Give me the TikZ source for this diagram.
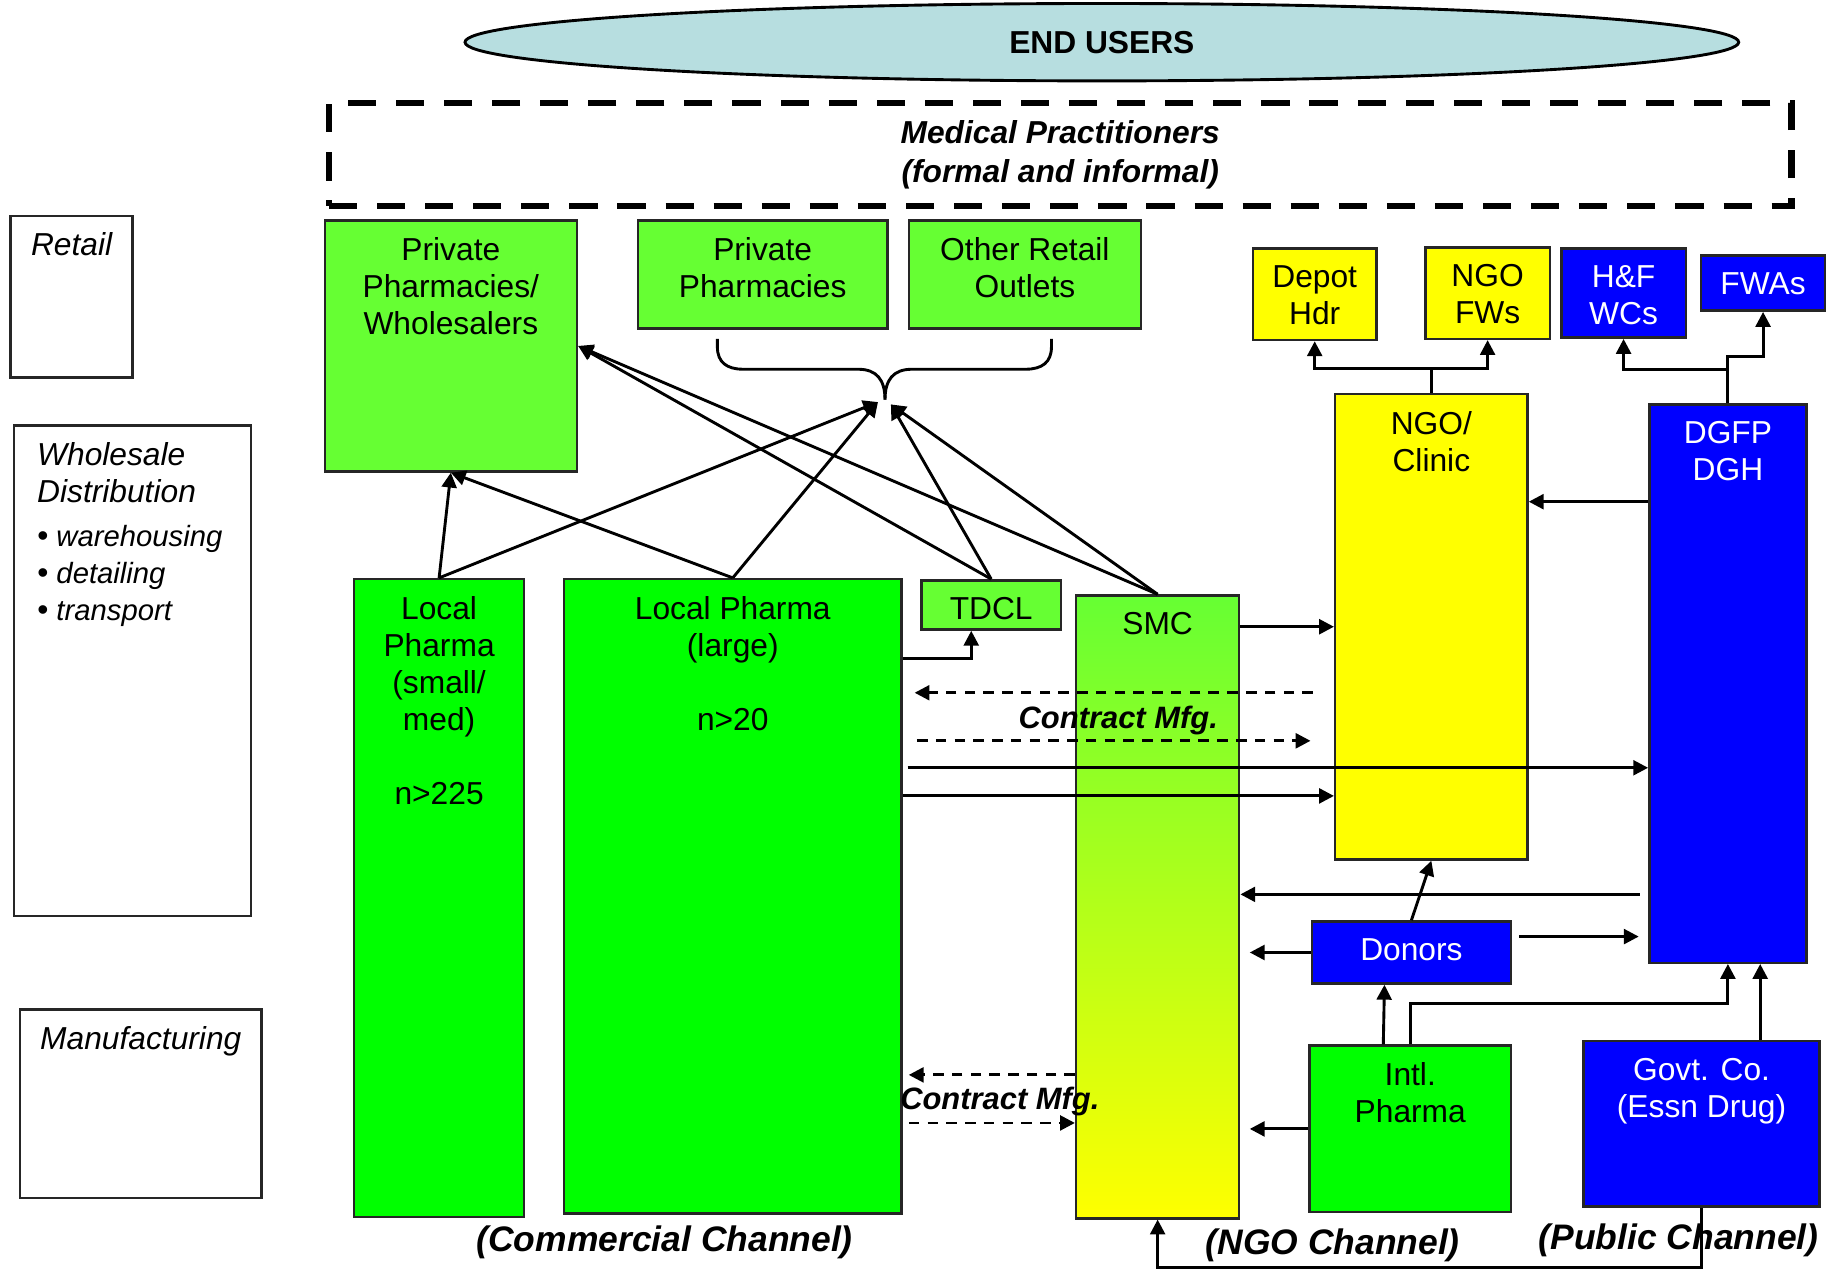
\documentclass[tikz,border=0pt]{standalone}
\usepackage{fontspec}
\setmainfont{Liberation Sans}
\usepackage{tikz}
\usetikzlibrary{positioning, calc, shapes.geometric, arrows.meta}
\definecolor{BrightLime}{HTML}{66FF33}
\definecolor{PureGreen}{HTML}{00FF00}
\definecolor{NgoYellow}{HTML}{FFFF00}
\definecolor{PublicBlue}{HTML}{0000FF}
\definecolor{SkyEllipse}{HTML}{B7DEE0}

\begin{document}
\begin{tikzpicture}[
    x=0.01cm, y=-0.01cm,
    font=\fontsize{7.7}{9}\selectfont,
    >={Triangle[length=3.6pt, width=3.6pt]},
    chbox/.style={rectangle, draw=black!85, line width=0.6pt, anchor=north west, inner sep=0pt},
    lime/.style={chbox, fill=BrightLime},
    pharma/.style={chbox, fill=PureGreen},
    ngobox/.style={chbox, fill=NgoYellow},
    pubbox/.style={chbox, fill=PublicBlue},
    side/.style={chbox, fill=white},
    dims/.style 2 args={minimum width=#1cm, minimum height=#2cm},
    toptext/.style={anchor=north, align=center, inner sep=0pt, yshift=-0.15cm},
    boxtext/.style={label={[toptext]north:{#1}}},
    whitetext/.style={label={[toptext, text=white]north:{#1}}},
    sidetext/.style={label={[toptext, font=\fontsize{7.7}{9}\selectfont\itshape]north:{#1}}},
    flow/.style={->, line width=0.7pt},
    cmflow/.style={->, line width=0.7pt, dash pattern=on 0.09cm off 0.07cm},
    cmtag/.style={font=\fontsize{7.5}{9}\selectfont\bfseries\itshape},
    tag/.style={font=\fontsize{8.6}{10}\selectfont\bfseries\itshape}
  ]
    \useasboundingbox (0,0) rectangle (1568,1085);

    % End users and practitioners
    \node (endusers) [ellipse, draw, line width=0.7pt, fill=SkyEllipse, minimum width=10.86cm, minimum height=0.66cm, inner sep=1pt, font=\fontsize{7.7}{9}\selectfont\bfseries] at (940,36) {END USERS};
    \node (medprac) [draw, line width=1.5pt, dash pattern=on 0.24cm off 0.17cm, minimum width=12.47cm, minimum height=0.88cm, align=center, font=\fontsize{7.7}{9.4}\selectfont\bfseries\itshape] at (904.5,132) {Medical Practitioners\\(formal and informal)};

    % Levels on the left
    \node (retail) [side, dims={1.04}{1.38}, sidetext={Retail}] at (8,183) {};
    \node (whole) [side, dims={2.02}{4.18}, label={[anchor=north west, align=left, inner sep=0pt, xshift=0.2cm, yshift=-0.15cm, font=\fontsize{7.7}{9}\selectfont\itshape]north west:{Wholesale\\Distribution\\[1.6pt]\textbullet\hspace{0.07cm}{\fontsize{7.1}{9}\selectfont warehousing}\\\textbullet\hspace{0.07cm}{\fontsize{7.1}{9}\selectfont detailing}\\\textbullet\hspace{0.07cm}{\fontsize{7.1}{9}\selectfont transport}}}] at (11,362) {};
    \node (manuf) [side, dims={2.06}{1.61}, sidetext={Manufacturing}] at (16,860) {};

    % Retail outlets
    \node (ppw) [lime, dims={2.15}{2.14}, boxtext={Private\\Pharmacies/\\Wholesalers}] at (276,187) {};
    \node (pp) [lime, dims={2.13}{0.92}, boxtext={Private\\Pharmacies}] at (543,187) {};
    \node (oro) [lime, dims={1.98}{0.92}, boxtext={Other Retail\\Outlets}, anchor=west, right=0.16cm of pp] {};
    \node (depot) [ngobox, dims={1.05}{0.78}, boxtext={Depot\\Hdr}] at (1068,211) {};
    \node (ngofw) [ngobox, dims={1.06}{0.78}, boxtext={NGO\\FWs}] at (1215,210) {};
    \node (hfwc) [pubbox, dims={1.06}{0.76}, whitetext={H\&F\\WCs}] at (1331,211) {};
    \node (fwa) [pubbox, dims={1.06}{0.47}, whitetext={FWAs}] at (1450,217) {};

    % Channels
    \node (ngo) [ngobox, dims={1.64}{3.97}, boxtext={NGO/\\Clinic}] at (1138,335) {};
    \node (dgfp) [pubbox, dims={1.34}{4.76}, whitetext={DGFP\\DGH}] at (1406,344) {};
    \node (lps) [pharma, dims={1.45}{5.44}, boxtext={Local\\Pharma\\(small/\\med)\\~\\n>225}] at (301,493) {};
    \node (lpl) [pharma, dims={2.88}{5.41}, boxtext={Local Pharma\\(large)\\~\\n>20}] at (480,493) {};
    \node (tdcl) [lime, dims={1.19}{0.42}, boxtext={TDCL}] at (785,494) {};
    \node (smc) [chbox, top color=BrightLime, bottom color=NgoYellow, dims={1.39}{5.31}, boxtext={SMC}] at (917,507) {};
    \node (donors) [pubbox, dims={1.70}{0.53}, whitetext={Donors}] at (1118,785) {};
    \node (intl) [pharma, dims={1.72}{1.42}, boxtext={Intl.\\Pharma}] at (1116,891) {};
    \node (govt) [pubbox, dims={2.01}{1.41}, whitetext={Govt. Co.\\(Essn Drug)}] at (1350,887) {};

    % Brace over the retail outlets
    \draw[line width=0.7pt] (612,289) -- (612,296) .. controls (612,309) and (620,315) .. (634,315) -- (732,315) .. controls (748,315) and (755,324) .. (755,341);
    \draw[line width=0.7pt] (897,289) -- (897,296) .. controls (897,309) and (889,315) .. (875,315) -- (778,315) .. controls (762,315) and (755,324) .. (755,341);
    \coordinate (tipl) at (749,343);
    \coordinate (tipr) at (760,345);

    % Levels of the horizontal links
    \coordinate (cmtop) at (1120,591);
    \coordinate (cmbot) at (1118,632);
    \coordinate (lvA) at (0,655);
    \coordinate (lvB) at (0,679);
    \coordinate (lvC) at (0,428);
    \coordinate (lvD) at (0,763);
    \coordinate (lvE) at (0,799);
    \coordinate (lvF) at (0,917);
    \coordinate (lvG) at (0,958);

    % Arrows to retail
    \draw[flow] (lps.north) -- (ppw.south);
    \draw[flow] (lps.north) -- (tipl);
    \draw[flow] (lpl.north) -- (ppw.south);
    \draw[flow] (lpl.north) -- (tipl);
    \draw[flow] (tdcl.north) -- (ppw.east);
    \draw[flow] (tdcl.north) -- (tipr);
    \draw[flow] (smc.north) -- (ppw.east);
    \draw[flow] (smc.north) -- (tipr);

    % Arrows between channels
    \draw[flow] ([yshift=-0.69cm]lpl.north east) -| ([xshift=-0.17cm]tdcl.south);
    \draw[flow] (smc.east |- ngo.west) -- (ngo.west);
    \draw[cmflow] (cmtop) -- ([xshift=0.1cm]lpl.east |- cmtop);
    \draw[cmflow] ([xshift=0.12cm]lpl.east |- cmbot) -- (cmbot);
    \draw[flow] ([xshift=0.04cm]lpl.east |- lvA) -- (dgfp.west |- lvA);
    \draw[flow] (lpl.east |- lvB) -- (ngo.west |- lvB);
    \draw[flow] (dgfp.west |- lvC) -- (ngo.east |- lvC);
    \draw[flow] ([xshift=-0.07cm]dgfp.west |- lvD) -- (smc.east |- lvD);
    \draw[flow] (donors.north) -- (ngo.south);
    \draw[flow] ([xshift=0.06cm]donors.east |- lvE) -- ([xshift=-0.08cm]dgfp.west |- lvE);
    \draw[flow] (donors.west) -- ([xshift=0.08cm]smc.east |- donors.west);
    \draw[flow] ([xshift=-0.23cm]intl.north) -- ([xshift=-0.23cm]donors.south);
    \draw[flow] (intl.north) -- ++(0,-35) -| (dgfp.south);
    \draw[flow] ([xshift=0.5cm]govt.north) -- ([xshift=0.5cm]govt.north |- dgfp.south);
    \draw[flow] (intl.west) -- ([xshift=0.08cm]smc.east |- intl.west);
    \draw[flow] (govt.south) -- ++(0,51) -| (smc.south);
    \draw[cmflow] (smc.west |- lvF) -- ([xshift=0.05cm]lpl.east |- lvF);
    \draw[cmflow] ([xshift=0.05cm]lpl.east |- lvG) -- (smc.west |- lvG);

    % Distribution to field workers
    \draw[flow] (ngo.north) -- ++(0,-21) -| (depot.south);
    \draw[flow] (ngo.north) -- ++(0,-21) -| (ngofw.south);
    \draw[flow] (dgfp.north) -- ++(0,-29) -| (hfwc.south);
    \draw[flow] (dgfp.north) -- ++(0,-40) -| (fwa.south);

    % Labels
    \node (cmA) [cmtag] at (954,615) {Contract Mfg.};
    \node (cmB) [cmtag] at (853,940) {Contract Mfg.};
    \node (commch) [tag] at (567,1060) {(Commercial Channel)};
    \node (ngoch) [tag] at (1137,1062) {(NGO Channel)};
    \node (pubch) [tag] at (1432,1058) {(Public Channel)};
  \end{tikzpicture}
\end{document}
